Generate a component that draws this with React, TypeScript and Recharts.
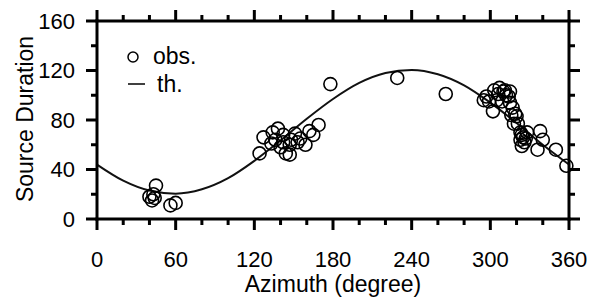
import React from "react";
import {
  ComposedChart,
  Line,
  Scatter,
  XAxis,
  YAxis,
  Legend,
} from "recharts";

// observed source duration vs azimuth
const obsAzimuth = [
  40, 42, 44, 45, 43, 56, 60,
  124, 127, 133, 134, 136, 138, 140, 142, 142, 144, 147, 147, 148, 151, 153, 155, 159, 162, 165, 169, 178,
  229, 266,
  295, 297, 299, 302, 303, 305, 306, 307, 309, 310, 311, 312, 314, 315, 315, 317, 316, 319, 320, 318, 321,
  323, 324, 325, 327, 323, 326, 324, 328, 338, 340, 336, 350, 358,
];
const obsDuration = [
  18, 15, 17, 27, 20, 11, 13,
  53, 66, 61, 70, 64, 73, 58, 68, 62, 53, 52, 60, 64, 69, 62, 65, 60, 71, 68, 76, 109,
  114, 101,
  96, 99, 95, 87, 104, 96, 101, 106, 95, 103, 104, 100, 99, 103, 94, 90, 84, 85, 83, 77, 77,
  70, 68, 66, 65, 64, 62, 59, 70, 71, 64, 56, 56, 43,
];

// theoretical curve
const thAzimuth = [0, 20, 40, 60, 80, 100, 120, 140, 160, 180, 200, 220, 240, 260, 280, 300, 320, 340, 360];
const thDuration = [44, 31, 23, 20.5, 24, 33, 47, 63.5, 81, 97, 110, 118, 120.5, 117, 108, 94, 77.5, 60, 44];

const xTicks = [0, 20, 40, 60, 80, 100, 120, 140, 160, 180, 200, 220, 240, 260, 280, 300, 320, 340, 360];
const yTicks = [0, 20, 40, 60, 80, 100, 120, 140, 160];

const obsData = obsAzimuth.map((az, i) => ({ az, dur: obsDuration[i] }));
const thData = thAzimuth.map((az, i) => ({ az, dur: thDuration[i] }));

const FONT = "'Liberation Sans', Arial, Helvetica, sans-serif";

const BoxTick = (props: any) => {
  const { x, y, payload, side } = props;
  const v = payload.value;
  const horiz = side === "bottom" || side === "top";
  const major = horiz ? v % 60 === 0 : v % 40 === 0;
  const len = major ? 11 : 6;
  let line;
  if (side === "bottom") line = <line x1={x} x2={x} y1={y} y2={y + len} />;
  else if (side === "top") line = <line x1={x} x2={x} y1={y} y2={y - len} />;
  else if (side === "left") line = <line x1={x} x2={x - len} y1={y} y2={y} />;
  else line = <line x1={x} x2={x + len} y1={y} y2={y} />;
  return (
    <g>
      <g stroke="#000" strokeWidth={3}>{line}</g>
      {major && side === "bottom" && (
        <text x={x} y={y + 48} textAnchor="middle" fontSize={22} fontFamily={FONT} fill="#000">
          {v}
        </text>
      )}
      {major && side === "left" && (
        <text x={x - 22} y={y} dy="0.36em" textAnchor="end" fontSize={22} fontFamily={FONT} fill="#000">
          {v}
        </text>
      )}
    </g>
  );
};

const XTitle = () => (
  <text x={333} y={292} textAnchor="middle" fontSize={23} fontFamily={FONT} fill="#000">
    Azimuth (degree)
  </text>
);

const YTitle = () => (
  <text
    x={33}
    y={119}
    transform="rotate(-90 33 119)"
    textAnchor="middle"
    fontSize={23}
    fontFamily={FONT}
    fill="#000"
  >
    Source Duration
  </text>
);

const ObsLegend = () => (
  <svg width={90} height={60} style={{ display: "block" }}>
    <circle cx={13} cy={15} r={5} fill="none" stroke="#000" strokeWidth={1.5} />
    <text x={33} y={22} fontSize={23} fontFamily={FONT} fill="#000">obs.</text>
    <line x1={8} x2={25} y1={42} y2={42} stroke="#000" strokeWidth={1.5} />
    <text x={37} y={50} fontSize={23} fontFamily={FONT} fill="#000">th.</text>
  </svg>
);

const Ring = (props: any) => (
  <circle cx={props.cx} cy={props.cy} r={6.5} fill="none" stroke="#000" strokeWidth={1.6} />
);

const axisLine = { stroke: "#000", strokeWidth: 3, strokeLinecap: "square" as const };

export default function App() {
  return (
    <div style={{ position: "absolute", left: 0, top: 0, background: "#fff" }}>
      <ComposedChart
        width={597}
        height={302}
        margin={{ top: 20, right: 27, bottom: 0, left: 0 }}
      >
        <XAxis
          dataKey="az"
          type="number"
          domain={[0, 360]}
          ticks={xTicks}
          interval={0}
          height={83}
          tickSize={0}
          tickMargin={0}
          tickLine={false}
          axisLine={axisLine}
          tick={(p: any) => <BoxTick {...p} side="bottom" />}
          label={{ content: XTitle }}
        />
        <XAxis
          xAxisId="top"
          orientation="top"
          dataKey="az"
          type="number"
          domain={[0, 360]}
          ticks={xTicks}
          interval={0}
          height={1}
          tickSize={0}
          tickMargin={0}
          tickLine={false}
          axisLine={axisLine}
          tick={(p: any) => <BoxTick {...p} side="top" />}
        />
        <YAxis
          type="number"
          domain={[0, 160]}
          ticks={yTicks}
          interval={0}
          width={97}
          tickSize={0}
          tickMargin={0}
          tickLine={false}
          axisLine={axisLine}
          tick={(p: any) => <BoxTick {...p} side="left" />}
          label={{ content: YTitle }}
        />
        <YAxis
          yAxisId="right"
          orientation="right"
          type="number"
          domain={[0, 160]}
          ticks={yTicks}
          interval={0}
          width={1}
          tickSize={0}
          tickMargin={0}
          tickLine={false}
          axisLine={axisLine}
          tick={(p: any) => <BoxTick {...p} side="right" />}
        />
        <Legend
          layout="horizontal"
          verticalAlign="middle"
          align="center"
          wrapperStyle={{ left: 120, top: 42, width: 90 }}
          content={ObsLegend}
        />
        <Line
          xAxisId="top"
          yAxisId="right"
          data={thData}
          dataKey="dur"
          type="monotone"
          stroke="#111"
          strokeWidth={2}
          dot={false}
          isAnimationActive={false}
        />
        <Scatter
          data={obsData}
          dataKey="dur"
          shape={Ring}
          isAnimationActive={false}
        />
      </ComposedChart>
    </div>
  );
}
